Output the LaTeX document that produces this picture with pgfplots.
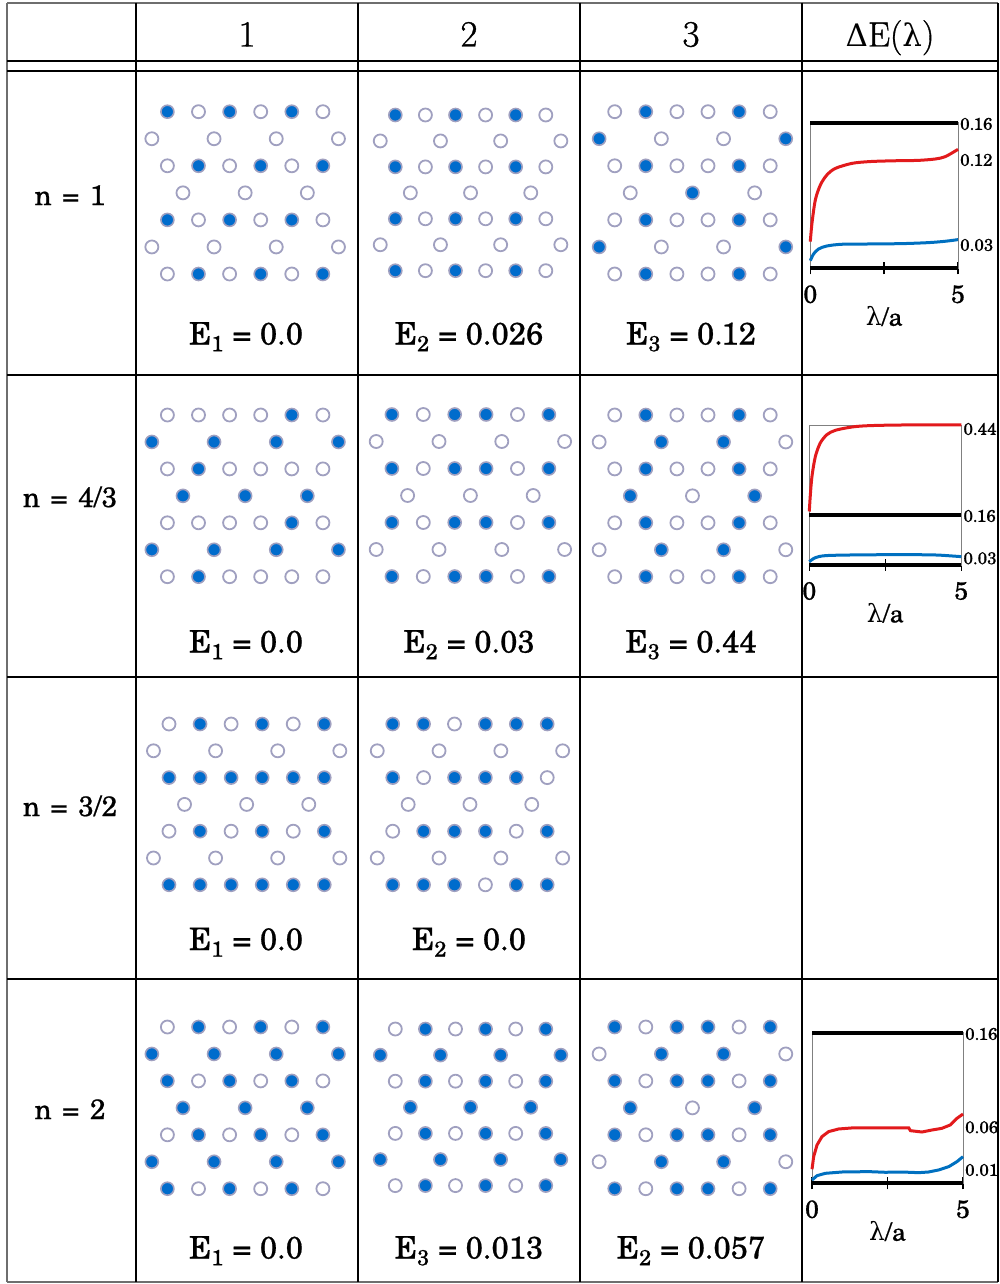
\documentclass[border=0pt]{standalone}
\usepackage{fontspec}
\setmainfont{TeX Gyre Schola}[RawFeature={embolden=0.7}]
\newfontfamily\lmr{Latin Modern Roman}[RawFeature={embolden=1.0}]
\newfontfamily\dvs{DejaVu Serif}
\usepackage{pgfplots}
\usepackage{pgfplotstable}
\pgfplotsset{compat=1.18}
\definecolor{dotblue}{RGB}{0,108,204}
\definecolor{dotedge}{RGB}{160,160,192}
\definecolor{redc}{RGB}{226,26,28}
\definecolor{bluec}{RGB}{0,112,192}
\definecolor{bordergray}{RGB}{110,110,110}

% lattice sites: k = horizontal position in half spacings, r = row; columns = filled (1) / empty (0)
\pgfplotstableread{
k r L11 L12 L13 L21 L22 L23 L31 L32 L41 L42 L43
0 0 1 1 0 0 1 0 0 1 0 0 1
2 0 0 0 1 0 0 1 1 1 1 1 0
4 0 1 1 0 0 1 0 0 0 0 0 1
6 0 0 0 0 0 1 0 1 1 1 1 1
8 0 1 1 1 1 0 1 0 1 0 0 0
10 0 0 0 0 0 1 0 1 1 1 1 1
-1 1 0 0 1 1 0 0 0 0 1 1 0
3 1 0 0 0 1 0 1 0 0 1 1 1
7 1 0 0 0 1 0 1 0 0 1 1 1
11 1 0 0 1 1 0 0 0 0 1 1 0
0 2 0 1 0 0 1 0 1 1 1 0 1
2 2 1 0 1 1 0 1 1 0 0 1 0
4 2 0 1 0 0 1 0 1 1 1 0 1
6 2 1 0 0 0 1 0 1 1 0 1 1
8 2 0 1 1 0 0 1 1 1 1 0 0
10 2 1 0 0 0 1 0 1 0 0 1 1
1 3 0 0 0 1 0 1 0 0 1 1 1
5 3 0 0 1 1 0 0 0 0 1 1 0
9 3 0 0 0 1 0 1 0 0 1 1 1
0 4 1 1 0 0 1 0 0 0 0 0 1
2 4 0 0 1 0 0 1 1 1 1 1 0
4 4 1 1 0 0 1 0 0 1 0 0 1
6 4 0 0 0 0 1 0 1 1 1 1 1
8 4 1 1 1 1 0 1 0 0 0 0 0
10 4 0 0 0 0 1 0 1 1 1 1 1
-1 5 0 0 1 1 0 0 0 0 1 1 0
3 5 0 0 0 1 0 1 0 0 1 1 1
7 5 0 0 0 1 0 1 0 0 1 1 1
11 5 0 0 1 1 0 0 0 0 1 1 0
0 6 0 1 0 0 1 0 1 1 1 0 1
2 6 1 0 1 1 0 1 1 1 0 1 0
4 6 0 1 0 0 1 0 1 1 1 0 1
6 6 1 0 0 0 1 0 1 0 0 1 1
8 6 0 1 1 0 0 1 1 1 1 0 0
10 6 1 0 0 0 1 0 1 1 0 1 1
}\sites

\pgfplotsset{
  filleddot/.style={only marks, mark=*, mark size=6.5pt, mark options={fill=dotblue, draw=dotedge, line width=1.6pt}},
  emptydot/.style={only marks, mark=*, mark size=6.5pt, mark options={fill=white, draw=dotedge, line width=1.8pt}},
  small/.style={scale only axis, anchor=south west, clip=false, xmin=0, xmax=5,
    axis line style={draw=gray, line width=0.8pt},
    xtick={0,2.5,5}, xticklabels={0,,5}, xtick pos=bottom, tick align=center,
    major tick length=12pt, xtick style={black, line width=1.5pt},
    xticklabel style={font=\fontsize{25}{25}\selectfont, anchor=center, yshift=-20pt},
    yticklabel pos=right, ytick style={draw=none},
    yticklabel style={font=\fontsize{17}{17}\selectfont, anchor=west, inner sep=0pt, xshift=-4pt},
    xlabel={{\dvs λ}/a},
    every axis x label/.style={at={(axis description cs:0.5,0)}, anchor=center, yshift=-48pt, font=\fontsize{25}{25}\selectfont},
  },
  thickblack/.style={black, line width=4pt},
  redline/.style={redc, line width=3pt, smooth},
  blueline/.style={bluec, line width=3pt, smooth}
}
% #1 column, #2 x of first site, #3 half spacing, #4 y of first row, #5 row spacing
\newcommand{\lattice}[5]{%
\addplot[emptydot, restrict expr to domain={\thisrow{#1}}{-0.5:0.5}] table[x expr=#2+\thisrow{k}*#3, y expr=#4+\thisrow{r}*#5]{\sites};
\addplot[filleddot, restrict expr to domain={\thisrow{#1}}{0.5:1.5}] table[x expr=#2+\thisrow{k}*#3, y expr=#4+\thisrow{r}*#5]{\sites};
}

\begin{document}
\begin{tikzpicture}
\useasboundingbox (0,0) rectangle (999pt,1284pt);
\begin{axis}[name=main, at={(0,0)}, anchor=south west, scale only axis,
  width=999pt, height=1284pt, xmin=0, xmax=999, ymin=0, ymax=1284,
  y dir=reverse, hide axis, clip=false]
% table frame
\draw[bordergray, line width=2pt] (axis cs:7,2.7) -- (axis cs:998,2.7);
\draw[bordergray, line width=2pt] (axis cs:7,1282) -- (axis cs:998,1282);
\draw[bordergray, line width=2pt] (axis cs:7,2.7) -- (axis cs:7,1282);
\draw[black, line width=2pt] (axis cs:998,2.7) -- (axis cs:998,1282);
\draw[black, line width=2pt] (axis cs:136,2.7) -- (axis cs:136,1282);
\draw[black, line width=2pt] (axis cs:358,2.7) -- (axis cs:358,1282);
\draw[black, line width=2pt] (axis cs:580,2.7) -- (axis cs:580,1282);
\draw[black, line width=2pt] (axis cs:802,2.7) -- (axis cs:802,1282);
\draw[black, line width=2pt] (axis cs:7,61) -- (axis cs:998,61);
\draw[black, line width=2pt] (axis cs:7,71) -- (axis cs:998,71);
\draw[black, line width=2pt] (axis cs:7,374.5) -- (axis cs:998,374.5);
\draw[black, line width=2pt] (axis cs:7,677) -- (axis cs:998,677);
\draw[black, line width=2pt] (axis cs:7,979) -- (axis cs:998,979);
% header
\node[anchor=base, font=\lmr\fontsize{37}{37}\selectfont] at (axis cs:247,46.5) {1};
\node[anchor=base, font=\lmr\fontsize{37}{37}\selectfont] at (axis cs:469,46.5) {2};
\node[anchor=base, font=\lmr\fontsize{37}{37}\selectfont] at (axis cs:691,46.5) {3};
\node[anchor=base, font=\lmr\fontsize{35}{35}\selectfont] at (axis cs:890,46.5) {{\dvs\fontsize{31}{31}\selectfont Δ}E({\dvs\fontsize{31}{31}\selectfont λ})};
% row labels
\node[anchor=base, font=\fontsize{28}{28}\selectfont] at (axis cs:70,205) {n\hspace{0.38em}=\hspace{0.38em}1};
\node[anchor=base, font=\fontsize{28}{28}\selectfont] at (axis cs:70,507) {n\hspace{0.38em}=\hspace{0.38em}4/3};
\node[anchor=base, font=\fontsize{28}{28}\selectfont] at (axis cs:70,816) {n\hspace{0.38em}=\hspace{0.38em}3/2};
\node[anchor=base, font=\fontsize{28}{28}\selectfont] at (axis cs:70,1119) {n\hspace{0.38em}=\hspace{0.38em}2};
% energies
\node[anchor=base, font=\fontsize{31}{31}\selectfont] at (axis cs:246,344.5) {E\textsubscript{1} = 0.0};
\node[anchor=base, font=\fontsize{31}{31}\selectfont] at (axis cs:469,344.5) {E\textsubscript{2} = 0.026};
\node[anchor=base, font=\fontsize{31}{31}\selectfont] at (axis cs:691,344.5) {E\textsubscript{3} = 0.12};
\node[anchor=base, font=\fontsize{31}{31}\selectfont] at (axis cs:246,652.5) {E\textsubscript{1} = 0.0};
\node[anchor=base, font=\fontsize{31}{31}\selectfont] at (axis cs:469,652.5) {E\textsubscript{2} = 0.03};
\node[anchor=base, font=\fontsize{31}{31}\selectfont] at (axis cs:691,652.5) {E\textsubscript{3} = 0.44};
\node[anchor=base, font=\fontsize{31}{31}\selectfont] at (axis cs:246,950) {E\textsubscript{1} = 0.0};
\node[anchor=base, font=\fontsize{31}{31}\selectfont] at (axis cs:469,950) {E\textsubscript{2} = 0.0};
\node[anchor=base, font=\fontsize{31}{31}\selectfont] at (axis cs:246,1258.5) {E\textsubscript{1} = 0.0};
\node[anchor=base, font=\fontsize{31}{31}\selectfont] at (axis cs:469,1258.5) {E\textsubscript{3} = 0.013};
\node[anchor=base, font=\fontsize{31}{31}\selectfont] at (axis cs:691,1258.5) {E\textsubscript{2} = 0.057};
% lattices
\lattice{L11}{167.4}{15.55}{111.7}{27.05}
\lattice{L12}{395.3}{15.05}{115}{25.95}
\lattice{L13}{614.7}{15.55}{111.7}{27.05}
\lattice{L21}{167.4}{15.55}{415}{26.95}
\lattice{L22}{391.9}{15.7}{414.5}{27.0}
\lattice{L23}{614.7}{15.55}{415}{26.95}
\lattice{L31}{169}{15.53}{724}{26.8}
\lattice{L32}{392.7}{15.45}{724}{26.8}
\lattice{L41}{167.4}{15.55}{1027}{26.95}
\lattice{L42}{395.3}{15.05}{1029}{26.1}
\lattice{L43}{614.7}{15.55}{1027}{26.95}
\end{axis}

% Delta E plot, n = 1
\begin{axis}[small, at={(810.3pt,1015.7pt)}, width=147.7pt, height=145.6pt,
  ymin=0, ymax=0.16, ytick={0.1586,0.119,0.0256}, yticklabels={0.16,0.12,0.03}]
\addplot[thickblack] coordinates {(0,0.16) (5,0.16)};
\addplot[thickblack] coordinates {(0,0) (5,0)};
\addplot[redline] coordinates {(0,0.0293) (0.056,0.0494) (0.17,0.0751) (0.34,0.0915) (0.56,0.1025) (0.85,0.1098) (1.41,0.1153) (1.98,0.1172) (2.54,0.1179) (3.10,0.1183) (3.67,0.1186) (4.23,0.1201) (4.57,0.1227) (5,0.1307)};
\addplot[blueline] coordinates {(0,0.0084) (0.11,0.0157) (0.28,0.0212) (0.56,0.0245) (1.07,0.0264) (1.98,0.0267) (3.10,0.0271) (4.0,0.0282) (4.57,0.0297) (5,0.0315)};
\end{axis}

% Delta E plot, n = 4/3
\begin{axis}[small, at={(809.3pt,719pt)}, width=152pt, height=140pt,
  ymin=0, ymax=0.45, ytick={0.437,0.1575,0.0215}, yticklabels={0.44,0.16,0.03}]
\addplot[thickblack] coordinates {(0,0.16) (5,0.16)};
\addplot[thickblack] coordinates {(0,0) (5,0)};
\addplot[redline] coordinates {(0,0.172) (0.03,0.220) (0.088,0.285) (0.2,0.349) (0.36,0.392) (0.58,0.419) (0.86,0.433) (1.40,0.4435) (1.95,0.4478) (3.05,0.450) (5,0.450)};
\addplot[blueline] coordinates {(0,0.0107) (0.2,0.0236) (0.53,0.030) (1.4,0.0322) (3.05,0.0333) (4.14,0.0322) (4.69,0.029) (5,0.0268)};
\end{axis}

% Delta E plot, n = 2
\begin{axis}[small, at={(812pt,100.7pt)}, width=151pt, height=150.6pt,
  ymin=0, ymax=0.16, ytick={0.1586,0.0595,0.0141}, yticklabels={0.16,0.06,0.01}]
\addplot[thickblack] coordinates {(0,0.16) (5,0.16)};
\addplot[thickblack] coordinates {(0,0) (5,0)};
\addplot[redc, line width=3pt] coordinates {(0,0.0149) (0.055,0.0283) (0.166,0.0407) (0.33,0.0496) (0.55,0.0549) (0.88,0.0577) (1.32,0.0588) (1.88,0.0588) (2.43,0.0588) (2.87,0.059) (3.2,0.059) (3.26,0.0559) (3.64,0.0545) (3.97,0.0566) (4.3,0.0584) (4.58,0.062) (4.8,0.069) (5,0.0736)};
\addplot[bluec, line width=3pt] coordinates {(0,0.0035) (0.166,0.0081) (0.44,0.0106) (0.99,0.012) (1.88,0.0124) (2.43,0.0117) (2.98,0.012) (3.53,0.0113) (3.86,0.012) (4.2,0.0142) (4.53,0.0177) (4.8,0.023) (5,0.0283)};
\end{axis}
\end{tikzpicture}
\end{document}
